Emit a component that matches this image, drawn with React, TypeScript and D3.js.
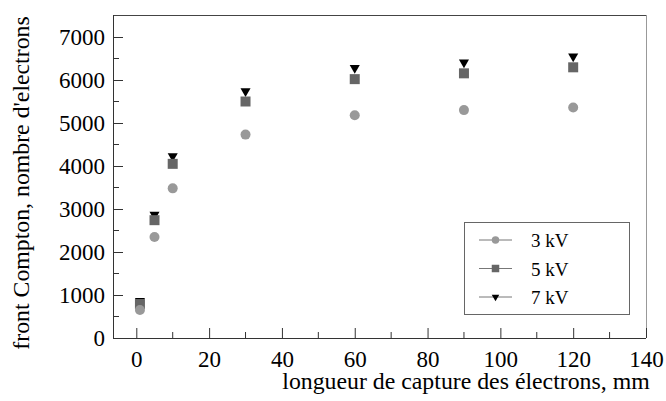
import { useRef, useEffect } from 'react'
import * as d3 from 'd3'

// capture length (mm)
const lengths = [1, 5, 10, 30, 60, 90, 120]
// Compton edge, number of electrons
const values3kV = [650, 2350, 3480, 4730, 5180, 5300, 5360]
const values5kV = [790, 2740, 4050, 5500, 6020, 6155, 6295]
const values7kV = [860, 2870, 4230, 5740, 6280, 6410, 6550]

const seriesNames = ['3 kV', '5 kV', '7 kV']
const xTickValues = [0, 20, 40, 60, 80, 100, 120, 140]
const yTickValues = [0, 1000, 2000, 3000, 4000, 5000, 6000, 7000]

const xLabel = 'longueur de capture des électrons, mm'
const yLabel = "front Compton, nombre d'electrons"

const width = 666
const height = 401
const margin = { top: 15, right: 20, bottom: 63, left: 113 }
const font = '"Liberation Serif", "Times New Roman", serif'

export default function App() {
  const svgRef = useRef<SVGSVGElement>(null)

  useEffect(() => {
    if (!svgRef.current) return
    const svg = d3.select(svgRef.current)
    svg.selectAll('*').remove()

    const x = d3.scaleLinear().domain([-6.4, 140]).range([margin.left, width - margin.right])
    const y = d3.scaleLinear().domain([0, 7000]).range([height - margin.bottom, 37])
    const top = margin.top
    const bottom = height - margin.bottom
    const left = margin.left
    const right = width - margin.right

    // frame
    svg.append('line').attr('x1', left).attr('x2', right).attr('y1', top + 0.5).attr('y2', top + 0.5)
      .attr('stroke', '#444').attr('stroke-width', 1)
    svg.append('line').attr('x1', right + 0.5).attr('x2', right + 0.5).attr('y1', top).attr('y2', bottom)
      .attr('stroke', '#999').attr('stroke-width', 1)

    // minor ticks
    const xMinor = d3.range(0, 141, 10).filter(v => v % 20 !== 0)
    const yMinor = d3.range(500, 7001, 1000)

    const xAxis = d3.axisBottom(x).tickValues(xTickValues).tickSize(-10).tickPadding(13)
      .tickFormat(d => String(d))
    const yAxis = d3.axisLeft(y).tickValues(yTickValues).tickSize(-10).tickPadding(8)
      .tickFormat(d => String(d))

    const gx = svg.append('g').attr('transform', `translate(0,${bottom})`).call(xAxis as any)
    gx.select('.domain').attr('d', `M${left},0.5H${right}`).attr('stroke', '#333')
    gx.selectAll('.tick line').attr('stroke', '#333')
    gx.selectAll('text').attr('font-family', font).attr('font-size', 23).attr('fill', '#000')

    const gy = svg.append('g').attr('transform', `translate(${left},0)`).call(yAxis as any)
    gy.select('.domain').attr('d', `M0.5,${top}V${bottom}`).attr('stroke', '#333')
    gy.selectAll('.tick line').attr('stroke', '#333')
    gy.selectAll('text').attr('font-family', font).attr('font-size', 23).attr('fill', '#000')

    svg.append('g').selectAll('line').data(xMinor).enter().append('line')
      .attr('x1', d => x(d)).attr('x2', d => x(d))
      .attr('y1', bottom).attr('y2', bottom - 6)
      .attr('stroke', '#333')
    svg.append('g').selectAll('line').data(yMinor).enter().append('line')
      .attr('x1', left).attr('x2', left + 6)
      .attr('y1', d => y(d)).attr('y2', d => y(d))
      .attr('stroke', '#333')

    // axis titles
    svg.append('text')
      .attr('x', 466).attr('y', 389)
      .attr('text-anchor', 'middle')
      .attr('font-family', font).attr('font-size', 23.8)
      .text(xLabel)
    svg.append('text')
      .attr('transform', `translate(29,183) rotate(-90)`)
      .attr('text-anchor', 'middle')
      .attr('font-family', font).attr('font-size', 23.8)
      .text(yLabel)

    const circle = d3.symbol().type(d3.symbolCircle).size(Math.PI * 25)
    const square = d3.symbol().type(d3.symbolSquare).size(100)
    const triangle = d3.symbol().type(d3.symbolTriangle).size(44)

    const series = [
      { name: seriesNames[2], values: values7kV, shape: triangle, color: '#000', rot: 180 },
      { name: seriesNames[1], values: values5kV, shape: square, color: '#666', rot: 0 },
      { name: seriesNames[0], values: values3kV, shape: circle, color: '#999', rot: 0 },
    ]

    series.forEach(s => {
      svg.append('g').selectAll('path').data(s.values).enter().append('path')
        .attr('d', s.shape as any)
        .attr('transform', (d, i) => `translate(${x(lengths[i])},${y(d)}) rotate(${s.rot})`)
        .attr('fill', s.color)
    })

    // legend
    const legend = svg.append('g')
    legend.append('rect')
      .attr('x', 464.5).attr('y', 222.5).attr('width', 165).attr('height', 92)
      .attr('fill', '#fff').attr('stroke', '#666')
    const legendItems = [series[2], series[1], series[0]]
    legendItems.forEach((s, i) => {
      const cy = 240 + i * 28.5
      legend.append('line').attr('x1', 479).attr('x2', 512).attr('y1', cy).attr('y2', cy)
        .attr('stroke', '#777').attr('stroke-width', 1)
      legend.append('path').attr('d', (s.shape as any)())
        .attr('transform', `translate(495.5,${cy}) rotate(${s.rot}) scale(0.75)`)
        .attr('fill', s.color)
      legend.append('text').attr('x', 531).attr('y', cy + 7)
        .attr('font-family', font).attr('font-size', 19)
        .text(s.name)
    })
  }, [])

  return (
    <svg
      ref={svgRef}
      width={width}
      height={height}
      style={{ position: 'absolute', left: 0, top: 0, background: '#fff' }}
    />
  )
}
